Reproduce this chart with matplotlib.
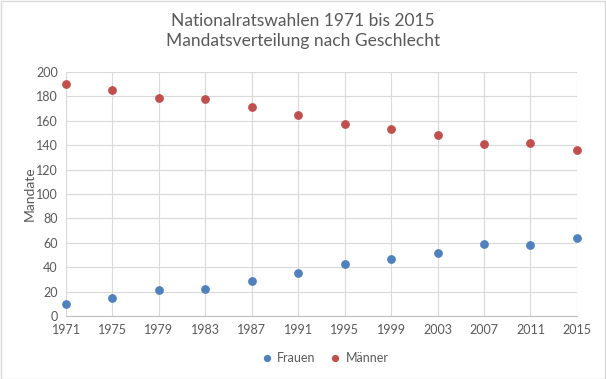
import matplotlib
matplotlib.use('Agg')
import matplotlib.pyplot as plt

years = [1971, 1975, 1979, 1983, 1987, 1991, 1995, 1999, 2003, 2007, 2011, 2015]
frauen = [10, 15, 21, 22, 29, 35, 43, 47, 52, 59, 58, 64]
maenner = [190, 185, 179, 178, 171, 165, 157, 153, 148, 141, 142, 136]

plt.rcParams['font.family'] = ['Lato', 'DejaVu Sans']
txt = '#595959'
grid = '#d9d9d9'

fig = plt.figure(figsize=(6.06, 3.79), dpi=100)
ax = fig.add_axes([0.109, 0.166, 0.843, 0.644])

ax.scatter(years, frauen, s=28, color='#4F81BD', label='Frauen', zorder=3, clip_on=False)
ax.scatter(years, maenner, s=28, color='#C0504D', label='Männer', zorder=3, clip_on=False)

ax.set_xlim(1971, 2015)
ax.set_ylim(0, 200)
ax.set_xticks(years)
ax.set_yticks(range(0, 201, 20))
ax.grid(True, color=grid, linewidth=0.8)
ax.set_axisbelow(True)
for s in ['top', 'right', 'left']:
    ax.spines[s].set_visible(False)
ax.spines['bottom'].set_color('#bfbfbf')
ax.tick_params(length=0, labelsize=9, colors=txt, pad=6)
ax.set_ylabel('Mandate', fontsize=10, color=txt, labelpad=0)

fig.suptitle('Nationalratswahlen 1971 bis 2015\nMandatsverteilung nach Geschlecht',
             y=0.967, fontsize=12.5, color=txt, linespacing=1.35)

ax.legend(loc='upper center', bbox_to_anchor=(0.5, -0.1), ncol=2, frameon=False,
          fontsize=9, labelcolor=txt, handletextpad=-0.2, columnspacing=0.6,
          markerscale=0.8)

fig.patches.append(plt.Rectangle((0.001, 0.001), 0.997, 0.997, transform=fig.transFigure,
                                 fill=False, edgecolor='#d9d9d9', linewidth=1))

fig.savefig('out.png', dpi=100)
